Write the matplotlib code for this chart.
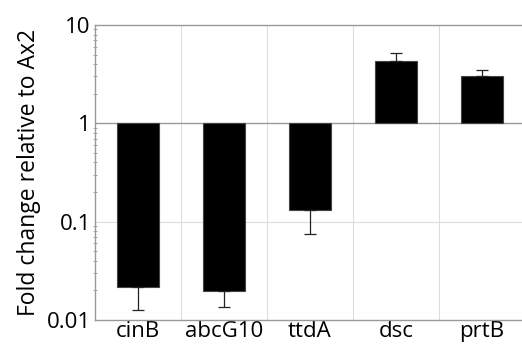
import matplotlib
matplotlib.use("Agg")
import matplotlib.pyplot as plt
import numpy as np

genes = ["cinB", "abcG10", "ttdA", "dsc", "prtB"]
fold = [0.0219, 0.0198, 0.132, 4.26, 3.02]
err_end = [0.0127, 0.0136, 0.0749, 5.14, 3.45]
yticks = [0.01, 0.1, 1, 10]
ytick_labels = ["0.01", "0.1", "1", "10"]

plt.rcParams['font.family'] = ['Open Sans', 'DejaVu Sans']

fig = plt.figure(figsize=(5.22, 3.44), dpi=100)
ax = fig.add_axes([95/522, (344-320)/344, 430/522, 295/344])
ax.set_yscale('log')
ax.set_ylim(0.01, 10)
ax.set_xlim(-0.5, len(genes) - 0.5)

x = np.arange(len(genes))
base = 1.0
heights = [f - base for f in fold]
ax.bar(x, heights, bottom=base, width=0.48, color='black', edgecolor='#444444', linewidth=0.8, zorder=3)

# one-sided error bars
lower = [f - e if e < f else 0 for f, e in zip(fold, err_end)]
upper = [e - f if e > f else 0 for f, e in zip(fold, err_end)]
ax.errorbar(x, fold, yerr=[lower, upper], fmt='none', ecolor='#222222', elinewidth=0.9, capsize=4, capthick=0.9, zorder=4)

# grid
for b in np.arange(0.5, len(genes) - 0.5, 1):
    ax.axvline(b, color='#dddddd', linewidth=0.8, zorder=0)
ax.axhline(0.1, color='#dddddd', linewidth=0.8, zorder=0)
ax.axhline(1, color='#999999', linewidth=1.0, zorder=2)

for s in ['left', 'bottom', 'top']:
    ax.spines[s].set_color('#999999')
    ax.spines[s].set_linewidth(1.0)
ax.spines['right'].set_visible(False)

ax.set_yticks(yticks)
ax.set_yticklabels(ytick_labels)
ax.tick_params(axis='y', which='major', length=0, labelsize=16, pad=3)
ax.tick_params(axis='y', which='minor', length=3, color='#999999', width=0.6, direction='inout')
ax.set_xticks(x)
ax.set_xticklabels(genes)
ax.tick_params(axis='x', length=0, labelsize=16, pad=1)
ax.set_ylabel("Fold change relative to Ax2", fontsize=16.5, labelpad=4)

fig.savefig("out.png", dpi=100)
